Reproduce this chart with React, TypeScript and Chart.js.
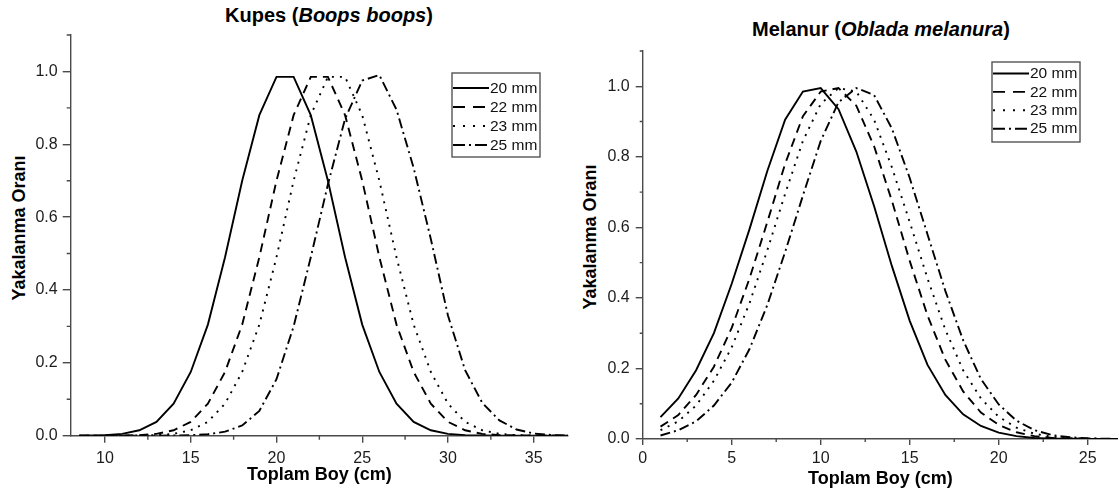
import React, { useEffect, useRef } from "react";
import { Chart, registerables } from "chart.js";

Chart.register(...registerables);

const FONT = '"Liberation Sans", Arial, Helvetica, sans-serif';
const AXIS_COLOR = "#4a4a4a";
const TICK_TEXT = "#1c1c1c";

// ---------- Kupes (Boops boops) ----------
const kupesLength = [8.5, 9, 10, 11, 12, 13, 14, 15, 16, 17, 18, 19, 20, 21, 22, 23, 24, 25, 26, 27, 28, 29, 30, 31, 32, 33, 34, 35, 36, 37];
const kupes20 = [0, 0.0005, 0.0015, 0.005, 0.015, 0.038, 0.088, 0.175, 0.305, 0.49, 0.7, 0.88, 0.985, 0.985, 0.88, 0.7, 0.49, 0.305, 0.175, 0.088, 0.038, 0.015, 0.005, 0.0015, 0.0005, 0, 0, 0, 0, 0];
const kupes22 = [0, 0, 0, 0.0005, 0.0015, 0.005, 0.015, 0.038, 0.088, 0.175, 0.305, 0.49, 0.7, 0.88, 0.985, 0.985, 0.88, 0.7, 0.49, 0.305, 0.175, 0.088, 0.038, 0.015, 0.005, 0.0015, 0.0005, 0, 0, 0];
const kupes23 = [0, 0, 0, 0, 0.0005, 0.0015, 0.005, 0.015, 0.038, 0.088, 0.175, 0.305, 0.49, 0.7, 0.88, 0.985, 0.985, 0.88, 0.7, 0.49, 0.305, 0.175, 0.088, 0.038, 0.015, 0.005, 0.0015, 0.0005, 0, 0];
const kupes25 = [0, 0, 0, 0, 0, 0, 0.0005, 0.0015, 0.004, 0.011, 0.028, 0.068, 0.155, 0.3, 0.49, 0.69, 0.87, 0.975, 0.99, 0.895, 0.735, 0.54, 0.33, 0.18, 0.09, 0.042, 0.017, 0.006, 0.002, 0.0007];

// ---------- Melanur (Oblada melanura) ----------
const melanurLength = [1, 2, 3, 4, 5, 6, 7, 8, 9, 10, 11, 12, 13, 14, 15, 16, 17, 18, 19, 20, 21, 22, 23, 24, 25, 26, 27];
const melanur20 = [0.062, 0.115, 0.195, 0.3, 0.44, 0.595, 0.76, 0.905, 0.985, 0.995, 0.935, 0.815, 0.66, 0.49, 0.335, 0.21, 0.125, 0.07, 0.037, 0.018, 0.008, 0.003, 0.001, 0.0005, 0, 0, 0];
const melanur22 = [0.035, 0.068, 0.125, 0.205, 0.315, 0.455, 0.615, 0.78, 0.915, 0.985, 0.995, 0.945, 0.83, 0.675, 0.505, 0.35, 0.225, 0.135, 0.075, 0.04, 0.019, 0.008, 0.003, 0.0012, 0.0004, 0, 0];
const melanur23 = [0.025, 0.05, 0.095, 0.165, 0.26, 0.385, 0.535, 0.695, 0.845, 0.95, 0.995, 0.985, 0.905, 0.77, 0.615, 0.455, 0.31, 0.195, 0.115, 0.063, 0.032, 0.015, 0.006, 0.0025, 0.001, 0, 0];
const melanur25 = [0.01, 0.025, 0.05, 0.095, 0.16, 0.255, 0.38, 0.53, 0.69, 0.845, 0.955, 0.995, 0.975, 0.88, 0.74, 0.58, 0.42, 0.28, 0.17, 0.098, 0.052, 0.025, 0.011, 0.005, 0.002, 0.0007, 0];

const seriesLabels = ["20 mm", "22 mm", "23 mm", "25 mm"];
const seriesDash = [[], [9, 6], [2, 6], [10, 4, 2, 4]];

const xAxisTitle = "Toplam Boy (cm)";
const yAxisTitle = "Yakalanma Oranı";

const minorTicksPlugin = {
  id: "minorTicks",
  afterDraw(chart: any, _args: any, o: any) {
    const { ctx, chartArea } = chart;
    const xs = chart.scales.x;
    const ys = chart.scales.y;
    ctx.save();
    ctx.strokeStyle = o.color;
    ctx.lineWidth = o.width;
    ctx.beginPath();
    const isMajor = (v: number, m: number) => Math.abs(v / m - Math.round(v / m)) < 1e-6;
    for (let v = Math.ceil(xs.min / o.xStep) * o.xStep; v <= xs.max + 1e-9; v += o.xStep) {
      if (isMajor(v, o.xMajor)) continue;
      const px = xs.getPixelForValue(v);
      ctx.moveTo(px, chartArea.bottom);
      ctx.lineTo(px, chartArea.bottom + o.len);
    }
    for (let v = Math.ceil(ys.min / o.yStep - 1e-6) * o.yStep; v <= ys.max + 1e-9; v += o.yStep) {
      if (isMajor(v, o.yMajor)) continue;
      const py = ys.getPixelForValue(v);
      ctx.moveTo(chartArea.left, py);
      ctx.lineTo(chartArea.left - o.len, py);
    }
    ctx.stroke();
    ctx.restore();
  },
};

const lineLegendPlugin = {
  id: "lineLegend",
  afterDraw(chart: any, _args: any, o: any) {
    const { ctx } = chart;
    ctx.save();
    ctx.strokeStyle = o.borderColor;
    ctx.lineWidth = 1.4;
    ctx.strokeRect(o.x, o.y, o.w, o.h);
    chart.data.datasets.forEach((ds: any, i: number) => {
      const cy = o.firstRow + i * o.rowGap;
      ctx.setLineDash(o.dashes[i] || []);
      ctx.lineWidth = ds.borderWidth;
      ctx.strokeStyle = ds.borderColor;
      ctx.beginPath();
      ctx.moveTo(o.x + 1, cy);
      ctx.lineTo(o.x + o.lineLen, cy);
      ctx.stroke();
      ctx.setLineDash([]);
      ctx.fillStyle = o.textColor;
      ctx.font = `${o.fontSize}px ${FONT}`;
      ctx.textBaseline = "middle";
      ctx.textAlign = "left";
      ctx.fillText(ds.label, o.x + o.lineLen + 1, cy + 0.5);
    });
    ctx.restore();
  },
};

const legendDashes = [[], [12, 8], [2, 8], [12, 4, 2, 4]];

type PanelProps = {
  left: number;
  width: number;
  xs: number[];
  series: number[][];
  xMin: number;
  xMax: number;
  padTop: number;
  padRight: number;
  yWidth: number;
  xHeight: number;
  yTickLen: number;
  yTickPad: number;
  xTickLen: number;
  xTickPad: number;
  minorLen: number;
  xTitleBottom: number;
  legend: any;
};

function Panel(p: PanelProps) {
  const ref = useRef<HTMLCanvasElement | null>(null);
  useEffect(() => {
    if (!ref.current) return;
    const datasets = p.series.map((ys, i) => ({
      label: seriesLabels[i],
      data: p.xs.map((x, j) => ({ x, y: ys[j] })),
      borderColor: "#000000",
      borderWidth: 1.9,
      borderDash: seriesDash[i],
      pointRadius: 0,
      tension: 0,
      fill: false,
    }));
    const chart = new Chart(ref.current, {
      type: "line",
      data: { datasets },
      plugins: [minorTicksPlugin, lineLegendPlugin],
      options: {
        animation: false,
        responsive: false,
        devicePixelRatio: 1,
        layout: { padding: { top: p.padTop, right: p.padRight, left: 0, bottom: 0 } },
        plugins: {
          legend: { display: false },
          tooltip: { enabled: false },
          title: { display: false },
          minorTicks: { color: AXIS_COLOR, width: 1.4, len: p.minorLen, xStep: 2.5, xMajor: 5, yStep: 0.1, yMajor: 0.2 },
          lineLegend: { ...p.legend, dashes: legendDashes },
        } as any,
        scales: {
          x: {
            type: "linear",
            min: p.xMin,
            max: p.xMax,
            afterFit: (s: any) => {
              s.height = p.xHeight;
            },
            ticks: {
              stepSize: 5,
              includeBounds: false,
              autoSkip: false,
              maxRotation: 0,
              padding: p.xTickPad,
              color: TICK_TEXT,
              font: { family: FONT, size: 16 },
            },
            grid: {
              drawOnChartArea: false,
              drawTicks: true,
              tickLength: p.xTickLen,
              color: AXIS_COLOR,
              lineWidth: 1.4,
            },
            border: { display: true, color: AXIS_COLOR, width: 1.4 },
            title: {
              display: true,
              text: xAxisTitle,
              color: "#000000",
              font: { family: FONT, size: 18, weight: "bold" },
              padding: { top: 0, bottom: p.xTitleBottom },
            },
          },
          y: {
            type: "linear",
            min: 0,
            max: 1.1,
            afterFit: (s: any) => {
              s.width = p.yWidth;
            },
            ticks: {
              stepSize: 0.2,
              includeBounds: false,
              padding: p.yTickPad,
              color: TICK_TEXT,
              font: { family: FONT, size: 16 },
              callback: (v: any) => Number(v).toFixed(1),
            },
            grid: {
              drawOnChartArea: false,
              drawTicks: true,
              tickLength: p.yTickLen,
              color: AXIS_COLOR,
              lineWidth: 1.4,
            },
            border: { display: true, color: AXIS_COLOR, width: 1.4 },
          },
        },
      } as any,
    });
    return () => chart.destroy();
  }, []);
  return (
    <canvas
      ref={ref}
      width={p.width}
      height={495}
      style={{ position: "absolute", left: p.left, top: 0, width: p.width, height: 495 }}
    />
  );
}

const titleStyle: React.CSSProperties = {
  position: "absolute",
  width: 400,
  textAlign: "center",
  fontFamily: FONT,
  fontWeight: "bold",
  fontSize: 20,
  lineHeight: "20px",
  color: "#000",
  whiteSpace: "nowrap",
};

const yTitleStyle: React.CSSProperties = {
  position: "absolute",
  fontFamily: FONT,
  fontWeight: "bold",
  fontSize: 18,
  lineHeight: "18px",
  color: "#000",
  whiteSpace: "nowrap",
  transform: "translate(-50%, -50%) rotate(-90deg)",
};

export default function App() {
  return (
    <div
      style={{
        position: "fixed",
        left: 0,
        top: 0,
        width: 1118,
        height: 495,
        background: "#ffffff",
        overflow: "hidden",
      }}
    >
      <div style={{ ...titleStyle, left: 129, top: 5 }}>
        Kupes (<i>Boops boops</i>)
      </div>
      <div style={{ ...titleStyle, left: 681, top: 19 }}>
        Melanur (<i>Oblada melanura</i>)
      </div>
      <div style={{ ...yTitleStyle, left: 19, top: 228 }}>{yAxisTitle}</div>
      <div style={{ ...yTitleStyle, left: 590, top: 237 }}>{yAxisTitle}</div>
      <Panel
        left={0}
        width={572}
        xs={kupesLength}
        series={[kupes20, kupes22, kupes23, kupes25]}
        xMin={8}
        xMax={37}
        padTop={35}
        padRight={4}
        yWidth={70.7}
        xHeight={59.3}
        yTickLen={8}
        yTickPad={5}
        xTickLen={7}
        xTickPad={6}
        minorLen={4}
        xTitleBottom={9}
        legend={{ x: 452, y: 73, w: 88, h: 84, firstRow: 88, rowGap: 19, lineLen: 37, fontSize: 15.5, textColor: "#111", borderColor: "#555" }}
      />
      <Panel
        left={570}
        width={548}
        xs={melanurLength}
        series={[melanur20, melanur22, melanur23, melanur25]}
        xMin={0}
        xMax={26.7}
        padTop={51}
        padRight={0}
        yWidth={72.7}
        xHeight={56}
        yTickLen={7}
        yTickPad={6}
        xTickLen={6}
        xTickPad={4}
        minorLen={3}
        xTitleBottom={5}
        legend={{ x: 422, y: 62, w: 88, h: 80, firstRow: 73.5, rowGap: 18.4, lineLen: 37, fontSize: 15.5, textColor: "#111", borderColor: "#555" }}
      />
    </div>
  );
}
